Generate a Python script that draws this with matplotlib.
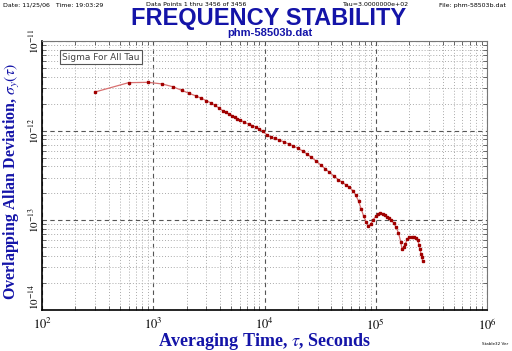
import matplotlib
matplotlib.use("Agg")
import matplotlib.pyplot as plt
from matplotlib.ticker import LogLocator, NullFormatter, FixedLocator

plt.rcParams['mathtext.fontset'] = 'stix'

# averaging times (s) and overlapping Allan deviation
tau = [300, 600, 900, 1200, 1500, 1800, 2100, 2400, 2700, 3000,
       3300, 3600, 3900, 4200, 4500, 4800, 5100, 5400, 5700, 6000,
       6600, 7200, 7800, 8400, 9000, 9600, 10500, 11400, 12300, 13500,
       15000, 16500, 18000, 20000, 22000, 24000, 26400, 29000, 32000, 35000,
       38000, 42000, 46000, 50000, 54000, 58000, 62000, 66000, 70000, 74000,
       78000, 82000, 86000, 90000, 95000, 100000, 105000, 110000, 115000, 120000,
       126000, 132000, 138000, 145000, 152000, 160000, 168000, 172000, 178000, 184000,
       192000, 200000, 210000, 220000, 230000, 238000, 245000, 250000, 255000, 260000,
       264000]
sigma = [2.70e-12, 3.43e-12, 3.46e-12, 3.32e-12, 3.09e-12, 2.82e-12, 2.61e-12, 2.45e-12, 2.30e-12, 2.16e-12,
         2.04e-12, 1.91e-12, 1.79e-12, 1.67e-12, 1.60e-12, 1.53e-12, 1.47e-12, 1.41e-12, 1.36e-12, 1.32e-12,
         1.24e-12, 1.18e-12, 1.14e-12, 1.09e-12, 1.045e-12, 9.92e-13, 9.00e-13, 8.51e-13, 8.23e-13, 7.88e-13,
         7.48e-13, 7.11e-13, 6.79e-13, 6.36e-13, 5.94e-13, 5.50e-13, 5.05e-13, 4.60e-13, 4.15e-13, 3.78e-13,
         3.46e-13, 3.13e-13, 2.84e-13, 2.65e-13, 2.48e-13, 2.34e-13, 2.15e-13, 1.92e-13, 1.645e-13, 1.34e-13,
         1.105e-13, 9.60e-14, 8.66e-14, 9.05e-14, 1.02e-13, 1.105e-13, 1.18e-13, 1.21e-13, 1.19e-13, 1.15e-13,
         1.10e-13, 1.055e-13, 9.97e-14, 9.35e-14, 8.44e-14, 7.24e-14, 5.74e-14, 4.80e-14, 5.05e-14, 5.45e-14,
         6.12e-14, 6.56e-14, 6.53e-14, 6.45e-14, 6.28e-14, 6.05e-14, 5.32e-14, 4.80e-14, 4.22e-14, 3.86e-14,
         3.48e-14]

x_ticks = [1e2, 1e3, 1e4, 1e5, 1e6]
x_tick_labels = ['$10^{2}$', '$10^{3}$', '$10^{4}$', '$10^{5}$', '$10^{6}$']
y_ticks = [1e-14, 1e-13, 1e-12, 1e-11]
y_tick_labels = ['$10^{-14}$', '$10^{-13}$', '$10^{-12}$', '$10^{-11}$']

blue = '#1414a8'

fig = plt.figure(figsize=(5.12, 3.51), dpi=100)
ax = fig.add_axes([42 / 512, 1 - 310 / 351, 445 / 512, 269 / 351])

ax.plot(tau, sigma, color='#d87070', lw=0.9, zorder=3)
ax.plot(tau, sigma, ls='none', marker='s', ms=1.8, color='#a00000', zorder=4)

ax.set_xscale('log')
ax.set_yscale('log')
ax.set_xlim(1e2, 1e6)
ax.set_ylim(1e-14, 1e-11)

ax.xaxis.set_major_locator(FixedLocator(x_ticks))
ax.set_xticklabels(x_tick_labels, fontsize=9, family='Liberation Serif')
ax.yaxis.set_major_locator(FixedLocator(y_ticks))
ax.set_yticklabels(y_tick_labels, fontsize=8, family='Liberation Serif', rotation=90, va='center')
ax.get_yticklabels()[0].set_va('bottom')
ax.xaxis.set_minor_locator(LogLocator(base=10, subs=range(2, 10), numticks=20))
ax.yaxis.set_minor_locator(LogLocator(base=10, subs=range(2, 10), numticks=20))
ax.xaxis.set_minor_formatter(NullFormatter())
ax.yaxis.set_minor_formatter(NullFormatter())

ax.tick_params(which='both', direction='in', top=True, right=True, colors='#333333')
ax.tick_params(which='major', length=0)
ax.tick_params(which='minor', length=3, width=0.5)
ax.tick_params(axis='x', pad=5, labelcolor='black')
ax.tick_params(axis='y', pad=1, labelcolor='black')

ax.grid(which='major', ls=(0, (4, 3)), color='#555555', lw=0.8)
ax.grid(which='minor', ls=(0, (1, 2)), color='#aaaaaa', lw=0.7)

for side in ['top', 'right']:
    ax.spines[side].set_color('#777777')
    ax.spines[side].set_linewidth(0.8)
for side in ['bottom', 'left']:
    ax.spines[side].set_color('black')
    ax.spines[side].set_linewidth(1.2)

ax.set_xlabel(r'Averaging Time, $\tau$, Seconds', fontsize=13, fontweight='bold',
              family='Liberation Serif', color=blue, labelpad=-1)
ax.set_ylabel(r'Overlapping Allan Deviation, $\sigma_y(\tau)$', fontsize=11.5, fontweight='bold',
              family='Liberation Serif', color=blue)
ax.yaxis.set_label_coords(-0.045, 0.48)

ax.text(0.046, 0.94, 'Sigma For All Tau', transform=ax.transAxes, fontsize=6.5,
        color='#444444', va='center', ha='left',
        bbox=dict(boxstyle='square,pad=0.25', fc='white', ec='#555555', lw=0.8), zorder=5)

# header texts
fig.text(3 / 512, 1 - 5 / 351, 'Date: 11/25/06   Time: 19:03:29', fontsize=4.5, va='center', ha='left')
fig.text(196 / 512, 1 - 5 / 351, 'Data Points 1 thru 3456 of 3456', fontsize=4.5, va='center', ha='center')
fig.text(376 / 512, 1 - 5 / 351, 'Tau=3.0000000e+02', fontsize=4.5, va='center', ha='center')
fig.text(506 / 512, 1 - 5 / 351, 'File: phm-58503b.dat', fontsize=4.5, va='center', ha='right')
fig.text(269 / 512, 1 - 18 / 351, 'FREQUENCY STABILITY', fontsize=17, fontweight='bold',
         family='Liberation Sans', color=blue, va='center', ha='center')
fig.text(270 / 512, 1 - 33 / 351, 'phm-58503b.dat', fontsize=8, fontweight='bold',
         family='Liberation Sans', color=blue, va='center', ha='center')
fig.text(508 / 512, 1 - 344 / 351, 'Stable32 Ver', fontsize=3, va='center', ha='right')

fig.savefig('out.png', dpi=100)
